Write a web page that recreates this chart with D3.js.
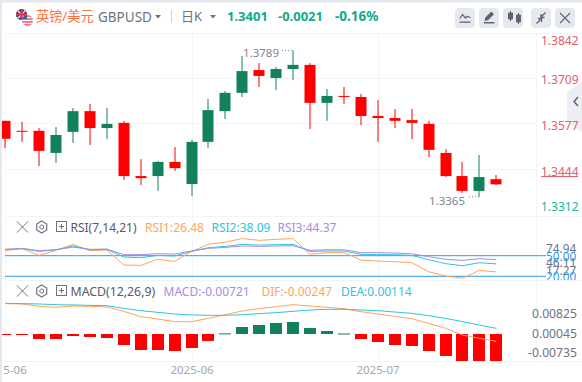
<!DOCTYPE html>
<html>
<head>
<meta charset="utf-8">
<script src="https://cdn.jsdelivr.net/npm/d3@7"></script>
<style>
    html, body { margin: 0; padding: 0; background: #fff; overflow: hidden; }
    svg { display: block; }
    text { font-family: "Noto Sans", "Noto Sans CJK SC", sans-serif; }
</style>
</head>
<body>
<div id="chart"></div>
<script>
// K-line values
const opens = [1.3585, 1.3556, 1.3556, 1.3492, 1.3553, 1.3613, 1.3564, 1.3579, 1.3425, 1.3425, 1.3466, 1.3402, 1.3524, 1.3613, 1.3666, 1.3732, 1.3709, 1.3735, 1.3747, 1.3637, 1.3657, 1.3654, 1.3599, 1.3593, 1.3587, 1.3576, 1.3492, 1.3425, 1.3382, 1.3416];
const closes = [1.3533, 1.3554, 1.3498, 1.3544, 1.3613, 1.3564, 1.3576, 1.3425, 1.3419, 1.3466, 1.3448, 1.3524, 1.3616, 1.3666, 1.3729, 1.3715, 1.3735, 1.3747, 1.3637, 1.3657, 1.3655, 1.3599, 1.3593, 1.3585, 1.3579, 1.3501, 1.3425, 1.3382, 1.3422, 1.3401];
const highs = [1.3585, 1.3582, 1.3564, 1.3567, 1.3622, 1.3634, 1.3622, 1.3585, 1.3474, 1.3469, 1.3509, 1.3530, 1.3648, 1.3671, 1.3773, 1.3752, 1.3741, 1.3789, 1.3752, 1.3677, 1.3683, 1.3663, 1.3645, 1.3619, 1.3619, 1.3585, 1.3503, 1.3466, 1.3486, 1.3428];
const lows = [1.3506, 1.3524, 1.3454, 1.3463, 1.3521, 1.3515, 1.3532, 1.3414, 1.3399, 1.3382, 1.3440, 1.3367, 1.3506, 1.3590, 1.3654, 1.3683, 1.3674, 1.3703, 1.3561, 1.3585, 1.3634, 1.3573, 1.3524, 1.3564, 1.3532, 1.3480, 1.3422, 1.3376, 1.3365, 1.3399];

const rsi1 = [57.3, 60.2, 50.5, 57.8, 66.5, 57.3, 58.3, 36.4, 35.9, 44.7, 41.8, 56.3, 66.5, 69.9, 74.94, 72.3, 73.8, 74.9, 52.0, 54.4, 54.4, 43.7, 42.2, 41.3, 39.8, 26.7, 20.4, 17.27, 28.6, 26.48];
const rsi2 = [59.2, 60.2, 56.3, 58.7, 64.1, 58.7, 59.2, 48.1, 47.1, 50.5, 49.5, 56.3, 61.7, 63.6, 66.5, 65.5, 66.0, 66.5, 56.3, 56.8, 56.8, 52.0, 51.5, 51.5, 50.5, 44.2, 38.4, 35.4, 39.8, 38.09];
const rsi3 = [59.2, 60.7, 57.3, 58.7, 62.6, 59.2, 59.7, 51.5, 51.5, 52.9, 52.4, 56.8, 60.7, 62.1, 64.1, 63.6, 64.1, 64.6, 57.8, 58.7, 58.7, 54.4, 54.4, 53.9, 52.9, 48.5, 44.7, 43.2, 45.6, 44.37];
const rsiLevels = [50, 20];

const macdBars = [-0.00019, -0.00015, -0.00139, -0.00139, -0.00056, -0.00083, -0.00111, -0.00306, -0.00444, -0.00444, -0.00472, -0.00389, -0.00194, 0.00018, 0.00194, 0.0025, 0.00306, 0.00333, 0.00167, 0.00083, 0.00015, -0.00139, -0.00222, -0.00306, -0.00333, -0.00472, -0.00611, -0.0075, -0.0075, -0.0075];
const dif = [0.00843, 0.00833, 0.00769, 0.00741, 0.00778, 0.00769, 0.0075, 0.0063, 0.00482, 0.00417, 0.00343, 0.00343, 0.00435, 0.00537, 0.00639, 0.00704, 0.00759, 0.00815, 0.00778, 0.00741, 0.00704, 0.0062, 0.00556, 0.00491, 0.00426, 0.00296, 0.00157, -0.00028, -0.0012, -0.00204];
const dea = [0.00852, 0.00843, 0.00833, 0.00815, 0.00806, 0.00796, 0.00787, 0.00713, 0.00648, 0.00602, 0.00556, 0.00528, 0.00519, 0.00519, 0.00537, 0.00565, 0.00593, 0.0063, 0.00667, 0.00685, 0.00685, 0.00667, 0.00648, 0.00611, 0.00574, 0.00509, 0.00435, 0.00343, 0.0025, 0.00157];

const priceTicks = ["1.3842", "1.3709", "1.3577", "1.3444", "1.3312"];
const priceGrid = [1.3709, 1.3577, 1.3444];
const rsiTicks = ["74.94", "46.11", "17.27", "50.00", "20.00"];
const macdTicks = ["0.00825", "0.00045", "-0.00735"];
const dateTicks = ["5-06", "2025-06", "2025-07"];

const RED = "#ff0000", GREEN = "#12825a", ORANGE = "#ffa45c", CYAN = "#2fc4dc", PURPLE = "#a78be6", GRID = "#f3f4f8";

const width = 582, height = 382;
const svg = d3.select("#chart").append("svg").attr("width", width).attr("height", height);
svg.append("rect").attr("width", width).attr("height", height).attr("fill", "#e6e8f0");
svg.append("rect").attr("x", 2).attr("y", 2.5).attr("width", width).attr("height", height).attr("rx", 3).attr("fill", "#fff");

const indices = d3.range(opens.length);
const x = d3.scalePoint().domain(indices).range([5.3, 496.3]);

const yPrice = d3.scaleLinear().domain([1.3709, 1.3444]).range([78, 169.5]);
const yRsi = d3.scaleLinear().domain([50, 20]).range([255.7, 276.3]);
const yMacd = d3.scaleLinear().domain([0, -0.0075]).range([334, 361]);

// grid and panes
const grid = svg.append("g").attr("stroke", GRID).attr("stroke-width", 1).attr("shape-rendering", "crispEdges");
[33, 216, 280, 361].forEach(y => grid.append("line").attr("x1", 5).attr("x2", 582).attr("y1", y).attr("y2", y));
priceGrid.forEach(p => grid.append("line").attr("x1", 5).attr("x2", 536).attr("y1", yPrice(p)).attr("y2", yPrice(p)));
[192, 378, 5, 536].forEach(v => grid.append("line").attr("x1", v).attr("x2", v).attr("y1", 33).attr("y2", 361));

// candles
const candle = svg.append("g").selectAll("g").data(indices).join("g")
    .attr("fill", i => closes[i] < opens[i] ? RED : GREEN);
candle.append("rect")
    .attr("x", i => Math.round(x(i)) - 0.5)
    .attr("width", 1)
    .attr("y", i => yPrice(highs[i]))
    .attr("height", i => yPrice(lows[i]) - yPrice(highs[i]));
candle.append("rect")
    .attr("x", i => Math.max(2, Math.round(x(i)) - 5.5))
    .attr("width", i => Math.round(x(i)) + 5.5 - Math.max(2, Math.round(x(i)) - 5.5))
    .attr("y", i => yPrice(Math.max(opens[i], closes[i])))
    .attr("height", i => Math.max(1, Math.abs(yPrice(opens[i]) - yPrice(closes[i]))));

// high / low labels
const hiLo = svg.append("g").attr("font-size", 11.5).attr("fill", "#80838f");
hiLo.append("text").attr("x", 243).attr("y", 56.5).text("1.3789");
hiLo.append("text").attr("x", 429).attr("y", 204.5).text("1.3365");
[[282, 292, yPrice(1.3789)], [469, 479, yPrice(1.3365)]].forEach(([a, b, v]) => {
    hiLo.append("line").attr("x1", a).attr("x2", b).attr("y1", v).attr("y2", v)
        .attr("stroke", "#80838f").attr("stroke-dasharray", "1,2");
});

// side handle
svg.append("path").attr("d", "M582 82L567 92V122L582 132Z").attr("fill", "#eceef3");
svg.append("path").attr("d", "M578 97l-4 4.5 4 4.5").attr("stroke", "#60646f").attr("stroke-width", 1.5).attr("fill", "none");

// price axis
const priceLabelY = [44.8, 84.2, 130, 176, 211];
svg.append("g").attr("font-size", 12).selectAll("text").data(priceTicks).join("text")
    .attr("x", 541)
    .attr("y", (d, i) => priceLabelY[i])
    .attr("fill", (d, i) => i === 4 ? "#22b39a" : "#e0606c")
    .text(d => d);
svg.append("rect").attr("x", 541).attr("y", 176).attr("width", 37).attr("height", 1).attr("fill", "#e0606c");

// rsi
const rsiLine = d3.line().x((d, i) => x(i)).y(d => yRsi(d));
rsiLevels.forEach(v => svg.append("line").attr("x1", 5).attr("x2", 546)
    .attr("y1", yRsi(v)).attr("y2", yRsi(v)).attr("stroke", "#2d9cf0").attr("stroke-width", 1));
[[rsi1, ORANGE], [rsi2, CYAN], [rsi3, PURPLE]].forEach(([s, c]) => {
    svg.append("path").attr("d", rsiLine(s)).attr("fill", "none").attr("stroke", c).attr("stroke-width", 1);
});
svg.append("clipPath").attr("id", "rsiClip").append("rect").attr("x", 536).attr("y", 217).attr("width", 46).attr("height", 63);
const rsiLabelY = [252.5, 266.5, 275, 261, 281];
svg.append("g").attr("clip-path", "url(#rsiClip)").attr("font-size", 11.8).selectAll("text").data(rsiTicks).join("text")
    .attr("x", 546).attr("y", (d, i) => rsiLabelY[i]).attr("fill", (d, i) => i > 2 ? "#2d9cf0" : "#70737f").text(d => d);

// macd
svg.append("g").selectAll("rect").data(indices).join("rect")
    .attr("x", i => Math.max(2, Math.round(x(i)) - 6))
    .attr("width", i => Math.round(x(i)) + 6 - Math.max(2, Math.round(x(i)) - 6))
    .attr("y", i => macdBars[i] > 0 ? yMacd(macdBars[i]) : 334)
    .attr("height", i => Math.max(1, Math.abs(yMacd(macdBars[i]) - 334)))
    .attr("fill", i => macdBars[i] < 0 ? RED : GREEN);
const macdLine = d3.line().x((d, i) => x(i)).y(d => yMacd(d));
[[dif, ORANGE], [dea, CYAN]].forEach(([s, c]) => {
    svg.append("path").attr("d", macdLine(s)).attr("fill", "none").attr("stroke", c).attr("stroke-width", 1);
});
const macdLabelY = [317.8, 338, 357];
svg.append("g").attr("font-size", 12.2).attr("fill", "#70737f").selectAll("text").data(macdTicks).join("text")
    .attr("x", 577).attr("y", (d, i) => macdLabelY[i]).attr("text-anchor", "end").text(d => d);

// date axis
const dateX = [15, 192, 378];
svg.append("g").attr("font-size", 11.5).attr("fill", "#a4a6b2").selectAll("text").data(dateTicks).join("text")
    .attr("x", (d, i) => dateX[i])
    .attr("y", 374)
    .attr("text-anchor", "middle")
    .text(d => d);

// pane legends
function paneHeader(y, name, nameSize, items) {
    const g = svg.append("g");
    const s = "#70737f";
    g.append("path").attr("d", `M17 ${y - 5.5}l11 11M28 ${y - 5.5}l-11 11`).attr("stroke", s).attr("fill", "none");
    g.append("path").attr("d", `M41.7 ${y - 6}l5 3v6l-5 3l-5 -3v-6z`).attr("stroke", s).attr("stroke-width", 1.2).attr("fill", "none");
    g.append("circle").attr("cx", 41.7).attr("cy", y).attr("r", 2).attr("stroke", s).attr("fill", "none");
    g.append("rect").attr("x", 56.5).attr("y", y - 5.5).attr("width", 10).attr("height", 10).attr("stroke", s).attr("fill", "none");
    g.append("path").attr("d", `M59 ${y - 0.5}h5M61.5 ${y - 3}v5`).attr("stroke", s).attr("fill", "none");
    g.append("text").attr("x", 70.5).attr("y", y + 4.5).attr("font-size", nameSize).attr("fill", "#555a66").text(name);
    items.forEach(d => g.append("text").attr("x", d.x).attr("y", y + 4.5).attr("font-size", 12).attr("fill", d.color).text(d.text));
}
paneHeader(227, "RSI(7,14,21)", 12, [
    { x: 145, text: "RSI1:26.48", color: ORANGE },
    { x: 211.5, text: "RSI2:38.09", color: CYAN },
    { x: 277.5, text: "RSI3:44.37", color: PURPLE }]);
paneHeader(291, "MACD(12,26,9)", 12.3, [
    { x: 163.5, text: "MACD:-0.00721", color: PURPLE },
    { x: 261.5, text: "DIF:-0.00247", color: ORANGE },
    { x: 341, text: "DEA:0.00114", color: CYAN }]);

// header
const head = svg.append("g");
const defs = svg.append("defs");
defs.append("clipPath").attr("id", "ukClip").append("circle").attr("cx", 21.5).attr("cy", 14.5).attr("r", 5.5);
defs.append("clipPath").attr("id", "usClip").append("circle").attr("cx", 27.5).attr("cy", 20.5).attr("r", 5.5);
const uk = head.append("g").attr("clip-path", "url(#ukClip)");
uk.append("rect").attr("x", 16).attr("y", 9).attr("width", 11).attr("height", 11).attr("fill", "#2c3a78");
uk.append("path").attr("d", "M16 9l11 11M27 9l-11 11").attr("stroke", "#f2e6ea").attr("stroke-width", 1.5);
uk.append("path").attr("d", "M21.5 9v11M16 14.5h11").attr("stroke", "#e8304a").attr("stroke-width", 2);
const us = head.append("g").attr("clip-path", "url(#usClip)");
us.append("rect").attr("x", 22).attr("y", 15).attr("width", 11).attr("height", 11).attr("fill", "#f4f4f8");
us.append("path").attr("d", "M22 16h11M22 19h11M22 22h11M22 25h11").attr("stroke", "#e25a6c").attr("stroke-width", 1.5);
us.append("rect").attr("x", 22).attr("y", 15).attr("width", 5).attr("height", 4).attr("fill", "#4a5a90");
head.append("text").attr("x", 36).attr("y", 21).attr("font-size", 13.2).attr("fill", "#ff6f3c").text("英镑/美元");
head.append("text").attr("x", 98).attr("y", 21.5).attr("font-size", 13.5).attr("fill", "#6d7180").text("GBPUSD");
head.append("path").attr("d", "M155 15h6l-3 3.5z").attr("fill", "#6d7180");
head.append("rect").attr("x", 171).attr("y", 10).attr("width", 1).attr("height", 13).attr("fill", "#ccd0da");
head.append("text").attr("x", 181).attr("y", 20.5).attr("font-size", 13).attr("fill", "#6d7180").text("日K");
head.append("path").attr("d", "M210 15h6l-3 3.5z").attr("fill", "#6d7180");
[["1.3401", 227, 13], ["-0.0021", 278, 13], ["-0.16%", 335, 13.5]].forEach(([t, px, fs]) => {
    head.append("text").attr("x", px).attr("y", 20.5).attr("font-size", fs).attr("font-weight", 700).attr("fill", "#12a98a").text(t);
});

// toolbar buttons
[455, 479, 503, 531, 555].forEach(bx => head.append("rect").attr("x", bx).attr("y", 8)
    .attr("width", 20).attr("height", 20).attr("rx", 4).attr("fill", "#e6e8f0"));
const ic = "#60646f";
head.append("path").attr("d", "M460 18.5l2.5-4 3 3.5 1.5-1.5 3.5 1").attr("stroke", ic).attr("stroke-width", 1.2).attr("fill", "none");
head.append("rect").attr("x", 459.5).attr("y", 21.5).attr("width", 11).attr("height", 1.3).attr("fill", ic);
head.append("path").attr("d", "M484.5 21l.8-3.4 6-6 2.7 2.7-6 6zM484 22h10.5v1.5H484z").attr("fill", ic);
head.append("path").attr("d", "M508.5 13h4v6h-4zM516.5 15h4v7h-4z").attr("fill", ic).attr("stroke", ic);
head.append("path").attr("d", "M510.5 11v10M518.5 13v11").attr("stroke", ic);
head.append("path").attr("d", "M536.5 23.5l4-4M538 18.5h3.5v3.5M545.5 12.5l-4 4M541 14v3.5h3.5").attr("stroke", ic).attr("stroke-width", 1.3).attr("fill", "none");
head.append("path").attr("d", "M560 13l10 10M570 13l-10 10").attr("stroke", ic).attr("stroke-width", 1.1).attr("fill", "none");
</script>
</body>
</html>
